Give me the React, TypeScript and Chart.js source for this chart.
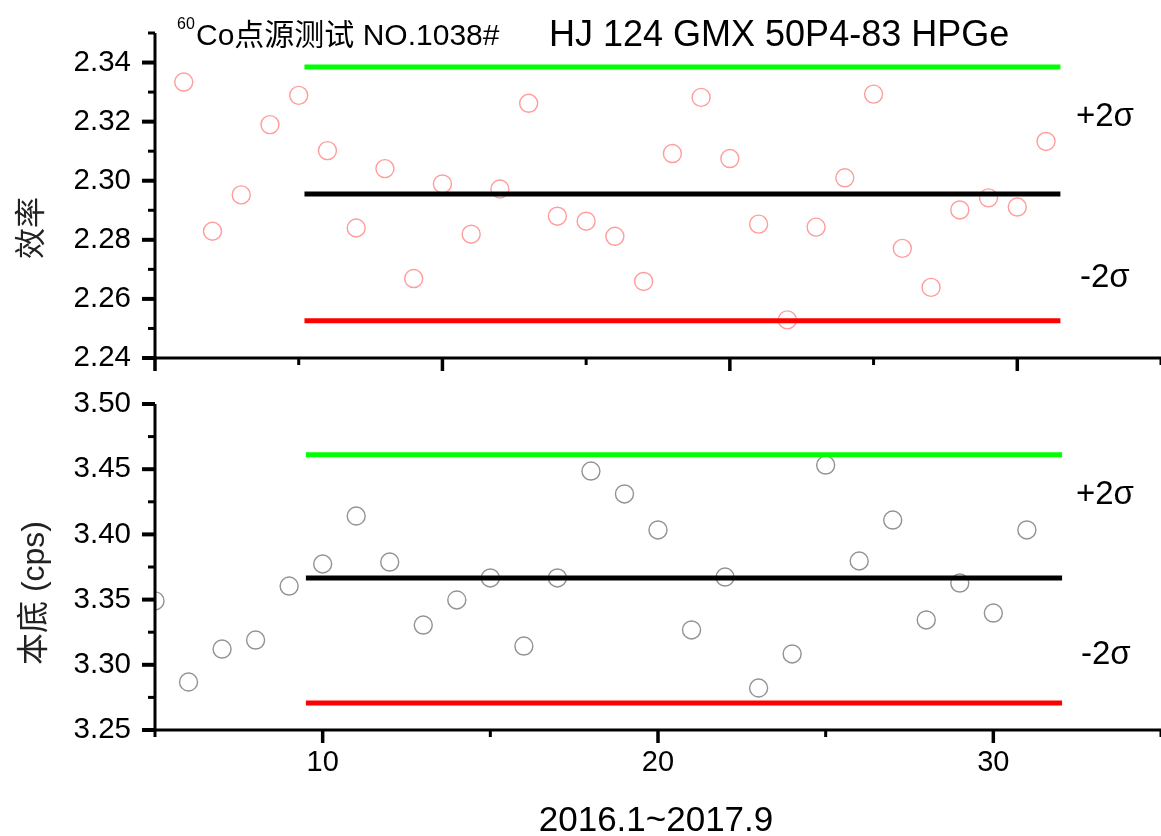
import React, { useEffect, useRef } from 'react';
import { Chart, registerables } from 'chart.js';

Chart.register(...registerables);

// ---------- data ----------
const effX = [1, 2, 3, 4, 5, 6, 7, 8, 9, 10, 11, 12, 13, 14, 15, 16, 17, 18, 19, 20, 21, 22, 23, 24, 25, 26, 27, 28, 29, 30, 31];
const effValues = [
  2.3334, 2.2829, 2.2952, 2.3190, 2.3289, 2.3102, 2.2840, 2.3041, 2.2669, 2.2989,
  2.2819, 2.2972, 2.3262, 2.2880, 2.2863, 2.2812, 2.2659, 2.3092, 2.3282, 2.3075,
  2.2853, 2.2529, 2.2843, 2.3010, 2.3293, 2.2771, 2.2639, 2.2901, 2.2942, 2.2911, 2.3133,
];
const effLimitX = [5.2, 31.5];
const effUpper = 2.3385;
const effMean = 2.2955;
const effLower = 2.2526;

const bgX = [5, 6, 7, 8, 9, 10, 11, 12, 13, 14, 15, 16, 17, 18, 19, 20, 21, 22, 23, 24, 25, 26, 27, 28, 29, 30, 31];
const bgValues = [
  3.349, 3.2868, 3.3121, 3.319, 3.3604, 3.3773, 3.4141, 3.3788, 3.3305, 3.3497,
  3.3666, 3.3144, 3.3666, 3.4486, 3.431, 3.4034, 3.3267, 3.3673, 3.2822, 3.3083,
  3.4532, 3.3796, 3.411, 3.3344, 3.3627, 3.3397, 3.4034,
];
const bgLimitX = [9.5, 32.05];
const bgUpper = 3.461;
const bgMean = 3.3666;
const bgLower = 3.2707;

// ---------- ticks ----------
const effYMajor = [2.24, 2.26, 2.28, 2.3, 2.32, 2.34];
const effYMinor = [2.25, 2.27, 2.29, 2.31, 2.33, 2.35];
const effXMajor = [0, 10, 20, 30];
const effXMinor = [5, 15, 25, 35];
const bgYMajor = [3.25, 3.3, 3.35, 3.4, 3.45, 3.5];
const bgYMinor = [3.275, 3.325, 3.375, 3.425, 3.475];
const bgXMajor = [10, 20, 30];
const bgXMinor = [5, 15, 25, 35];
const bgXLabels = [10, 20, 30];

const FONT = "'Liberation Sans', Arial, 'Noto Sans CJK SC', sans-serif";

type TextItem = {
  text: string; x: number; y: number; size: number;
  align?: CanvasTextAlign; baseline?: CanvasTextBaseline; rotate?: boolean; color?: string;
};

const originPlugin = {
  id: 'originAxes',
  afterDraw(chart: any, _args: any, o: any) {
    const { ctx, chartArea: ca } = chart;
    const xs = chart.scales.x;
    const ys = chart.scales.y;
    ctx.save();
    ctx.strokeStyle = '#000';
    ctx.lineCap = 'butt';
    const seg = (x1: number, y1: number, x2: number, y2: number, w: number) => {
      ctx.lineWidth = w;
      ctx.beginPath();
      ctx.moveTo(x1, y1);
      ctx.lineTo(x2, y2);
      ctx.stroke();
    };
    seg(ca.left, ca.top, ca.left, ca.bottom + 1.5, 3);
    seg(ca.left - 1.5, ca.bottom, ca.right, ca.bottom, 3);
    for (const v of o.yMajor) { const y = ys.getPixelForValue(v); seg(ca.left - 13, y, ca.left, y, 4); }
    for (const v of o.yMinor) { const y = ys.getPixelForValue(v); seg(ca.left - 7, y, ca.left, y, 3); }
    for (const v of o.xMajor) { const x = xs.getPixelForValue(v); seg(x, ca.bottom, x, ca.bottom + 13, 3.5); }
    for (const v of o.xMinor) { const x = xs.getPixelForValue(v); seg(x, ca.bottom, x, ca.bottom + 7, 3); }
    for (const t of (o.texts as TextItem[])) {
      ctx.save();
      ctx.fillStyle = t.color || '#000';
      ctx.font = `${t.size}px ${FONT}`;
      ctx.textAlign = t.align || 'left';
      ctx.textBaseline = t.baseline || 'alphabetic';
      ctx.translate(t.x, t.y);
      if (t.rotate) ctx.rotate(-Math.PI / 2);
      ctx.fillText(t.text, 0, 0);
      ctx.restore();
    }
    ctx.restore();
  },
};

function hline(xs: number[], y: number, color: string) {
  return {
    type: 'line' as const,
    data: [{ x: xs[0], y }, { x: xs[1], y }],
    borderColor: color,
    borderWidth: 5,
    pointRadius: 0,
    showLine: true,
    fill: false,
  };
}

function near(list: number[], v: number) {
  return list.some((m) => Math.abs(m - v) < 1e-6);
}

const fitY = (s: any) => {
  s.width = 155;
  s.paddingTop = 0;
  s.paddingBottom = 0;
  s.paddingLeft = 0;
  s.paddingRight = 0;
};
const fitX = (h: number) => (s: any) => {
  s.height = h;
  s.paddingTop = 0;
  s.paddingBottom = 0;
  s.paddingLeft = 0;
  s.paddingRight = 0;
};

export default function App() {
  const topRef = useRef<HTMLCanvasElement>(null);
  const botRef = useRef<HTMLCanvasElement>(null);

  useEffect(() => {
    const top = new Chart(topRef.current!, {
      type: 'scatter',
      data: {
        datasets: [
          hline(effLimitX, effUpper, '#00ff00'),
          hline(effLimitX, effMean, '#000000'),
          hline(effLimitX, effLower, '#ff0000'),
          {
            type: 'scatter',
            data: effX.map((x, i) => ({ x, y: effValues[i] })),
            pointRadius: 9,
            pointStyle: 'circle',
            pointBorderColor: 'rgba(255,90,90,0.6)',
            pointBackgroundColor: 'rgba(0,0,0,0)',
            pointBorderWidth: 1.4,
            showLine: false,
            clip: 0,
          } as any,
        ],
      },
      options: {
        responsive: false,
        animation: false,
        events: [],
        layout: { autoPadding: false, padding: { top: 33, right: 0, bottom: 0, left: 0 } },
        plugins: {
          legend: { display: false },
          tooltip: { enabled: false },
          originAxes: {
            yMajor: effYMajor, yMinor: effYMinor, xMajor: effXMajor, xMinor: effXMinor,
            texts: [
              { text: '60', x: 177, y: 29, size: 16 },
              { text: 'Co点源测试 NO.1038#', x: 196, y: 45, size: 30 },
              { text: 'HJ 124 GMX 50P4-83 HPGe', x: 549, y: 46, size: 36 },
              { text: '+2σ', x: 1076, y: 117, size: 33, baseline: 'middle' },
              { text: '-2σ', x: 1080, y: 278, size: 33, baseline: 'middle' },
              { text: '效率', x: 32, y: 228, size: 31, align: 'center', baseline: 'middle', rotate: true, color: '#222' },
            ],
          },
        } as any,
        scales: {
          x: {
            type: 'linear', min: 0, max: 35,
            grid: { display: false, drawTicks: false },
            border: { display: false },
            ticks: { display: false },
            afterFit: fitX(22),
          },
          y: {
            type: 'linear', min: 2.24, max: 2.35,
            grid: { display: false, drawTicks: false },
            border: { display: false },
            ticks: {
              stepSize: 0.01, maxTicksLimit: 40, autoSkip: false, padding: 24,
              color: '#000', font: { family: FONT, size: 29.5 },
              callback: (v: any) => (near(effYMajor, Number(v)) ? Number(v).toFixed(2) : ''),
            },
            afterFit: fitY,
          },
        },
      },
      plugins: [originPlugin],
    });

    const bot = new Chart(botRef.current!, {
      type: 'scatter',
      data: {
        datasets: [
          hline(bgLimitX, bgUpper, '#00ff00'),
          hline(bgLimitX, bgMean, '#000000'),
          hline(bgLimitX, bgLower, '#ff0000'),
          {
            type: 'scatter',
            data: bgX.map((x, i) => ({ x, y: bgValues[i] })),
            pointRadius: 9,
            pointStyle: 'circle',
            pointBorderColor: 'rgba(110,110,110,0.75)',
            pointBackgroundColor: 'rgba(0,0,0,0)',
            pointBorderWidth: 1.4,
            showLine: false,
            clip: 0,
          } as any,
        ],
      },
      options: {
        responsive: false,
        animation: false,
        events: [],
        layout: { autoPadding: false, padding: { top: 24, right: 0, bottom: 0, left: 0 } },
        plugins: {
          legend: { display: false },
          tooltip: { enabled: false },
          originAxes: {
            yMajor: bgYMajor, yMinor: bgYMinor, xMajor: bgXMajor, xMinor: bgXMinor,
            texts: [
              { text: '+2σ', x: 1076, y: 115, size: 33, baseline: 'middle' },
              { text: '-2σ', x: 1081, y: 275, size: 33, baseline: 'middle' },
              { text: '本底 (cps)', x: 35, y: 213, size: 32, align: 'center', baseline: 'middle', rotate: true, color: '#222' },
              { text: '2016.1~2017.9', x: 656, y: 441, size: 35, align: 'center', baseline: 'middle' },
            ],
          },
        } as any,
        scales: {
          x: {
            type: 'linear', min: 5, max: 35,
            grid: { display: false, drawTicks: false },
            border: { display: false },
            ticks: {
              stepSize: 5, autoSkip: false, maxRotation: 0, padding: 16,
              color: '#000', font: { family: FONT, size: 29 },
              callback: (v: any) => (near(bgXLabels, Number(v)) ? String(Number(v)) : ''),
            },
            afterFit: fitX(106),
          },
          y: {
            type: 'linear', min: 3.25, max: 3.5,
            grid: { display: false, drawTicks: false },
            border: { display: false },
            ticks: {
              stepSize: 0.05, maxTicksLimit: 40, autoSkip: false, padding: 24,
              color: '#000', font: { family: FONT, size: 29.5 },
              callback: (v: any) => (near(bgYMajor, Number(v)) ? Number(v).toFixed(2) : ''),
            },
            afterFit: fitY,
          },
        },
      },
      plugins: [originPlugin],
    });

    return () => {
      top.destroy();
      bot.destroy();
    };
  }, []);

  return (
    <div style={{ position: 'fixed', left: 0, top: 0, width: 1161, height: 836, background: '#fff', overflow: 'hidden' }}>
      <canvas ref={topRef} width={1161} height={380} style={{ position: 'absolute', left: 0, top: 0, width: 1161, height: 380 }} />
      <canvas ref={botRef} width={1161} height={456} style={{ position: 'absolute', left: 0, top: 380, width: 1161, height: 456 }} />
    </div>
  );
}
